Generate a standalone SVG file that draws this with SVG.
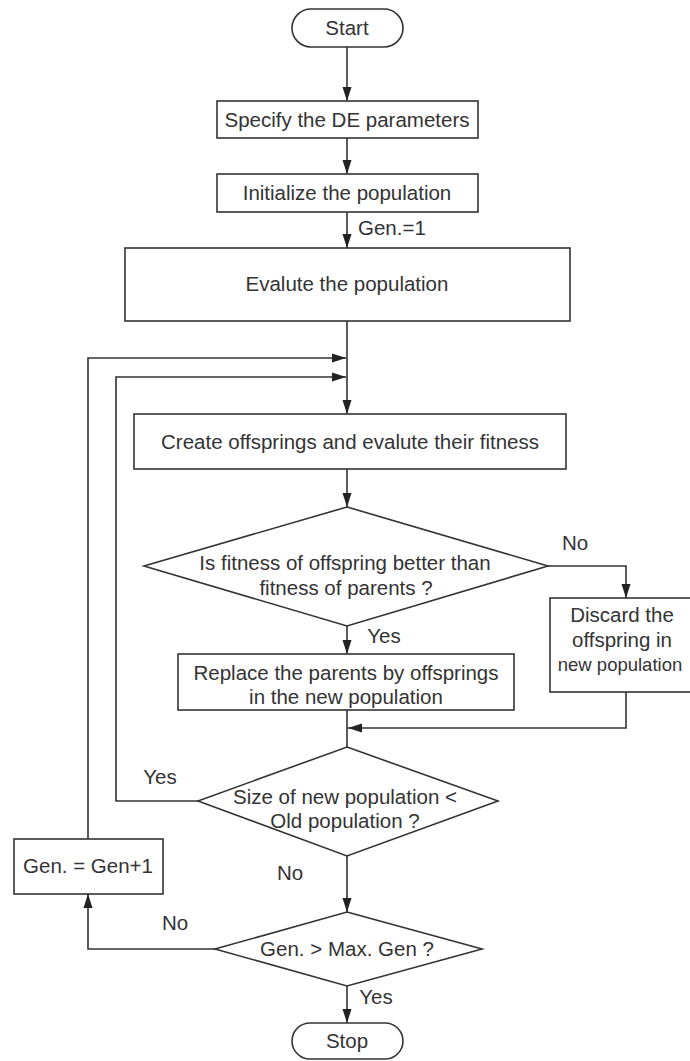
<svg xmlns="http://www.w3.org/2000/svg" width="690" height="1061" viewBox="0 0 690 1061">
<style>
.box{fill:#fff;stroke:#333;stroke-width:1.6}
.t{font-family:"Liberation Sans",Arial,sans-serif;font-size:20.5px;fill:#333;text-anchor:middle}
.l{font-family:"Liberation Sans",Arial,sans-serif;font-size:20.5px;fill:#333}
.c{fill:none;stroke:#333;stroke-width:1.6}
</style>
<defs>
<marker id="ah" markerUnits="userSpaceOnUse" markerWidth="14" markerHeight="10" refX="14" refY="5" orient="auto">
<path d="M0,0.5 L14,5 L0,9.5 z" fill="#222"/>
</marker>
</defs>
<rect width="690" height="1061" fill="#fff"/>
<g id="connectors">
<line class="c" x1="347" y1="47" x2="347" y2="101" marker-end="url(#ah)"/>
<line class="c" x1="347" y1="138" x2="347" y2="174" marker-end="url(#ah)"/>
<line class="c" x1="347" y1="212" x2="347" y2="248" marker-end="url(#ah)"/>
<line class="c" x1="347" y1="321" x2="347" y2="414" marker-end="url(#ah)"/>
<polyline class="c" points="88,839 88,358 346,358" marker-end="url(#ah)"/>
<polyline class="c" points="198,801 116,801 116,377 346,377" marker-end="url(#ah)"/>
<line class="c" x1="347" y1="469" x2="347" y2="507" marker-end="url(#ah)"/>
<polyline class="c" points="548,566 626,566 626,598" marker-end="url(#ah)"/>
<line class="c" x1="347" y1="626" x2="347" y2="654" marker-end="url(#ah)"/>
<polyline class="c" points="626,692 626,728 348,728" marker-end="url(#ah)"/>
<line class="c" x1="347" y1="710" x2="347" y2="747"/>
<line class="c" x1="347" y1="856" x2="347" y2="912" marker-end="url(#ah)"/>
<polyline class="c" points="215,949 88,949 88,894" marker-end="url(#ah)"/>
<line class="c" x1="347" y1="986" x2="347" y2="1023" marker-end="url(#ah)"/>
<text class="l" x="358" y="235">Gen.=1</text>
<text class="t" x="575" y="550">No</text>
<text class="t" x="384" y="643">Yes</text>
<text class="t" x="160" y="784">Yes</text>
<text class="t" x="290" y="880">No</text>
<text class="t" x="175" y="930">No</text>
<text class="t" x="376" y="1004">Yes</text>
</g>
<g id="start">
<rect class="box" x="292" y="9" width="111" height="38" rx="19"/>
<text class="t" x="347" y="35">Start</text>
</g>
<g id="specify">
<rect class="box" x="217" y="101" width="261" height="37"/>
<text class="t" x="347" y="127">Specify the DE parameters</text>
</g>
<g id="init">
<rect class="box" x="217" y="174" width="261" height="38"/>
<text class="t" x="347" y="200">Initialize the population</text>
</g>
<g id="evaluate">
<rect class="box" x="125" y="248" width="445" height="73"/>
<text class="t" x="347" y="291">Evalute the population</text>
</g>
<g id="create">
<rect class="box" x="134" y="414" width="432" height="55"/>
<text class="t" x="350" y="449">Create offsprings and evalute their fitness</text>
</g>
<g id="fitness-decision">
<polygon class="box" points="347,507 548,566 347,626 144,566"/>
<text class="t" x="345" y="570">Is fitness of offspring better than</text>
<text class="t" x="346" y="595">fitness of parents ?</text>
</g>
<g id="replace">
<rect class="box" x="178" y="654" width="336" height="56"/>
<text class="t" x="346" y="680">Replace the parents by offsprings</text>
<text class="t" x="346" y="704">in the new population</text>
</g>
<g id="discard">
<rect class="box" x="550" y="598" width="152" height="94"/>
<text class="t" x="622" y="622">Discard the</text>
<text class="t" x="622" y="647">offspring in</text>
<text class="t" x="620" y="671" style="font-size:18.5px">new population</text>
</g>
<g id="size-decision">
<polygon class="box" points="347,747 498,801 347,856 198,801"/>
<text class="t" x="345" y="804">Size of new population &lt;</text>
<text class="t" x="345" y="828">Old population ?</text>
</g>
<g id="gen-increment">
<rect class="box" x="14" y="839" width="149" height="55"/>
<text class="t" x="88" y="873">Gen. = Gen+1</text>
</g>
<g id="gen-decision">
<polygon class="box" points="347,912 482,949 347,986 215,949"/>
<text class="t" x="347" y="956">Gen. &gt; Max. Gen ?</text>
</g>
<g id="stop">
<rect class="box" x="292" y="1023" width="111" height="36" rx="18"/>
<text class="t" x="347" y="1048">Stop</text>
</g>
</svg>
